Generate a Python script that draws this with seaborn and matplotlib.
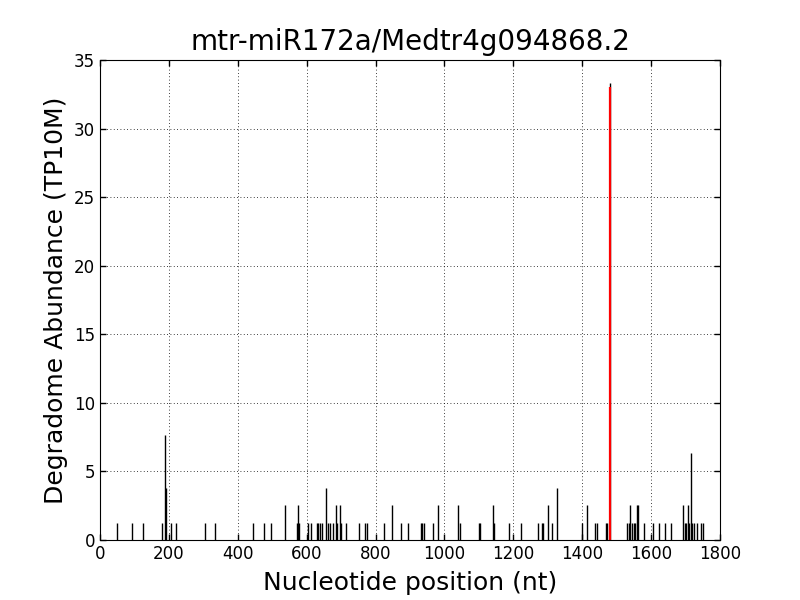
import matplotlib
matplotlib.use("Agg")
import matplotlib.pyplot as plt
import seaborn as sns
import numpy as np
import pandas as pd

title = "mtr-miR172a/Medtr4g094868.2"
xlabel = "Nucleotide position (nt)"
ylabel = "Degradome Abundance (TP10M)"

positions = [48, 94, 126, 181, 189, 192, 206, 222, 305, 335, 445, 477, 497, 536,
             573, 575, 577, 605, 612, 629, 634, 639, 645, 656, 662, 669, 677, 685,
             689, 697, 701, 714, 753, 770, 774, 825, 849, 875, 895, 931, 936, 941,
             968, 982, 1040, 1045, 1100, 1103, 1141, 1143, 1188, 1222, 1273, 1284,
             1287, 1301, 1311, 1326, 1398, 1415, 1437, 1442, 1470, 1473, 1480, 1531,
             1536, 1539, 1544, 1549, 1553, 1558, 1562, 1579, 1605, 1624, 1640, 1659,
             1693, 1698, 1701, 1708, 1711, 1716, 1720, 1725, 1732, 1744, 1751]
abundance = [1.27, 1.27, 1.27, 1.27, 7.62, 3.81, 1.27, 1.27, 1.27, 1.27, 1.27, 1.27, 1.27, 2.54,
             1.27, 2.54, 1.27, 1.27, 1.27, 1.27, 1.27, 1.27, 1.27, 3.81, 1.27, 1.27, 1.27, 2.54,
             1.27, 2.54, 1.27, 1.27, 1.27, 1.27, 1.27, 1.27, 2.54, 1.27, 1.27, 1.27, 1.27, 1.27,
             1.27, 2.54, 2.54, 1.27, 1.27, 1.27, 2.54, 1.27, 1.27, 1.27, 1.27, 1.27,
             1.27, 2.54, 1.27, 3.81, 1.27, 2.54, 1.27, 1.27, 1.27, 1.27, 33.3, 1.27,
             1.27, 2.54, 1.27, 1.27, 1.27, 2.54, 2.54, 1.27, 1.27, 1.27, 1.27, 1.27,
             2.54, 1.27, 1.27, 2.54, 1.27, 6.35, 1.27, 1.27, 1.27, 1.27, 1.27]

target_position = [1480]
target_abundance = [33.0]

xticks = [0, 200, 400, 600, 800, 1000, 1200, 1400, 1600, 1800]
yticks = [0, 5, 10, 15, 20, 25, 30, 35]

sns.set_style("white", rc={
    "axes.edgecolor": "black",
    "axes.linewidth": 1.0,
    "axes.labelcolor": "black",
    "text.color": "black",
    "xtick.color": "black",
    "ytick.color": "black",
    "xtick.direction": "in",
    "ytick.direction": "in",
    "xtick.top": True,
    "ytick.right": True,
    "xtick.bottom": True,
    "ytick.left": True,
    "grid.color": "black",
    "grid.linewidth": 0.6,
})
plt.rcParams["font.family"] = ["DejaVu Sans"]
plt.rcParams["xtick.major.size"] = 4
plt.rcParams["ytick.major.size"] = 4

df = pd.DataFrame({"pos": positions, "val": abundance})

fig = plt.figure(figsize=(8, 6), dpi=100, facecolor="white")
ax = fig.add_axes([0.125, 0.1, 0.775, 0.8])
ax.vlines(df["pos"], 0, df["val"], colors="black", linewidth=1.0)
ax.vlines(target_position, 0, target_abundance, colors="red", linewidth=1.6)

ax.set_xlim(0, 1800)
ax.set_ylim(0, 35)
ax.set_xticks(xticks)
ax.set_yticks(yticks)
ax.tick_params(labelsize=12, width=1.0, color="black", labelcolor="black")
ax.grid(True, linestyle=(0, (1, 3)), color="black", linewidth=0.6)
ax.set_axisbelow(True)
ax.set_title(title, fontsize=20, color="black", pad=7)
ax.set_xlabel(xlabel, fontsize=18, color="black", labelpad=6)
ax.set_ylabel(ylabel, fontsize=18, color="black")

fig.savefig("out.png", dpi=100, facecolor="white")
